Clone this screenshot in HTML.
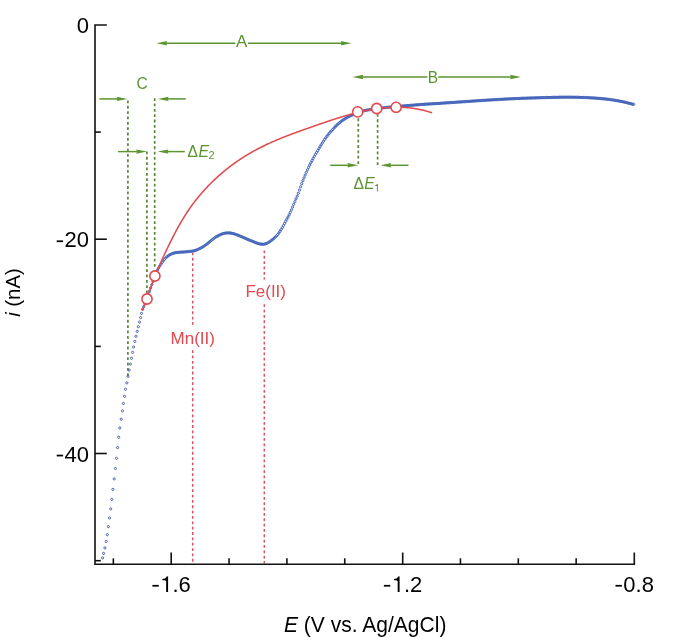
<!DOCTYPE html>
<html><head><meta charset="utf-8"><title>Voltammogram</title>
<style>html,body{margin:0;padding:0;background:#fff;width:685px;height:637px;overflow:hidden;font-family:"Liberation Sans",sans-serif;}svg{display:block;will-change:transform;}</style>
</head><body>
<svg width="685" height="637" viewBox="0 0 685 637">
<rect width="685" height="637" fill="#fff"/>
<line x1="192.7" y1="252.5" x2="192.7" y2="325.5" stroke="#d9525f" stroke-width="1.5" stroke-dasharray="2.8 2.55"/>
<line x1="192.7" y1="350.2" x2="192.7" y2="563.5" stroke="#d9525f" stroke-width="1.5" stroke-dasharray="2.8 2.55"/>
<line x1="264.3" y1="250.5" x2="264.3" y2="279.5" stroke="#d9525f" stroke-width="1.5" stroke-dasharray="2.8 2.55"/>
<line x1="264.3" y1="304.3" x2="264.3" y2="563.5" stroke="#d9525f" stroke-width="1.5" stroke-dasharray="2.8 2.55"/>
<line x1="127.9" y1="100.5" x2="127.9" y2="376.5" stroke="#5a8438" stroke-width="1.7" stroke-dasharray="2.8 2.55"/>
<line x1="154.7" y1="98.2" x2="154.7" y2="269" stroke="#5a8438" stroke-width="1.7" stroke-dasharray="2.8 2.55"/>
<line x1="146.9" y1="151.5" x2="146.9" y2="293" stroke="#5a8438" stroke-width="1.7" stroke-dasharray="2.8 2.55"/>
<line x1="358.3" y1="113" x2="358.3" y2="165" stroke="#5a8438" stroke-width="1.7" stroke-dasharray="2.8 2.55"/>
<line x1="377.6" y1="114" x2="377.6" y2="165.5" stroke="#5a8438" stroke-width="1.7" stroke-dasharray="2.8 2.55"/>
<path d="M106.8,25 H95 V564.3 H634.3 V552.5" fill="none" stroke="#111" stroke-width="1.6"/>
<line x1="95" y1="239.2" x2="106.8" y2="239.2" stroke="#111" stroke-width="1.6"/>
<line x1="95" y1="453.5" x2="106.8" y2="453.5" stroke="#111" stroke-width="1.6"/>
<line x1="95" y1="132.1" x2="100.8" y2="132.1" stroke="#111" stroke-width="1.6"/>
<line x1="95" y1="346.4" x2="100.8" y2="346.4" stroke="#111" stroke-width="1.6"/>
<line x1="95" y1="560.7" x2="100.8" y2="560.7" stroke="#111" stroke-width="1.6"/>
<line x1="171.2" y1="564.3" x2="171.2" y2="552.5" stroke="#111" stroke-width="1.6"/>
<line x1="402.7" y1="564.3" x2="402.7" y2="552.5" stroke="#111" stroke-width="1.6"/>
<line x1="113.35" y1="564.3" x2="113.35" y2="558.3" stroke="#111" stroke-width="1.6"/>
<line x1="229.05" y1="564.3" x2="229.05" y2="558.3" stroke="#111" stroke-width="1.6"/>
<line x1="286.90" y1="564.3" x2="286.90" y2="558.3" stroke="#111" stroke-width="1.6"/>
<line x1="344.75" y1="564.3" x2="344.75" y2="558.3" stroke="#111" stroke-width="1.6"/>
<line x1="460.45" y1="564.3" x2="460.45" y2="558.3" stroke="#111" stroke-width="1.6"/>
<line x1="518.30" y1="564.3" x2="518.30" y2="558.3" stroke="#111" stroke-width="1.6"/>
<line x1="576.15" y1="564.3" x2="576.15" y2="558.3" stroke="#111" stroke-width="1.6"/>
<circle cx="102.6" cy="557.9" r="1.1" fill="none" stroke="#5566b0" stroke-width="1.0"/>
<circle cx="103.6" cy="553.4" r="1.1" fill="none" stroke="#5566b0" stroke-width="1.0"/>
<circle cx="104.9" cy="547.9" r="1.1" fill="none" stroke="#5566b0" stroke-width="1.0"/>
<circle cx="106.2" cy="541.5" r="1.1" fill="none" stroke="#5566b0" stroke-width="1.0"/>
<circle cx="107.3" cy="534.7" r="1.1" fill="none" stroke="#5566b0" stroke-width="1.0"/>
<circle cx="108.4" cy="526.6" r="1.1" fill="none" stroke="#5566b0" stroke-width="1.0"/>
<circle cx="109.5" cy="517.9" r="1.1" fill="none" stroke="#5566b0" stroke-width="1.0"/>
<circle cx="110.7" cy="508.9" r="1.1" fill="none" stroke="#5566b0" stroke-width="1.0"/>
<circle cx="111.8" cy="499.4" r="1.1" fill="none" stroke="#5566b0" stroke-width="1.0"/>
<circle cx="112.9" cy="489.4" r="1.1" fill="none" stroke="#5566b0" stroke-width="1.0"/>
<circle cx="114.2" cy="478.9" r="1.1" fill="none" stroke="#5566b0" stroke-width="1.0"/>
<circle cx="115.4" cy="468.5" r="1.1" fill="none" stroke="#5566b0" stroke-width="1.0"/>
<circle cx="116.5" cy="458.3" r="1.1" fill="none" stroke="#5566b0" stroke-width="1.0"/>
<circle cx="117.6" cy="447.6" r="1.1" fill="none" stroke="#5566b0" stroke-width="1.0"/>
<circle cx="118.7" cy="437.3" r="1.1" fill="none" stroke="#5566b0" stroke-width="1.0"/>
<circle cx="119.8" cy="427.9" r="1.1" fill="none" stroke="#5566b0" stroke-width="1.0"/>
<circle cx="121.2" cy="419.2" r="1.1" fill="none" stroke="#5566b0" stroke-width="1.0"/>
<circle cx="122.5" cy="410.8" r="1.1" fill="none" stroke="#5566b0" stroke-width="1.0"/>
<circle cx="123.4" cy="403.4" r="1.1" fill="none" stroke="#5566b0" stroke-width="1.0"/>
<circle cx="124.5" cy="396.3" r="1.1" fill="none" stroke="#5566b0" stroke-width="1.0"/>
<circle cx="125.5" cy="389.3" r="1.1" fill="none" stroke="#5566b0" stroke-width="1.0"/>
<circle cx="126.8" cy="382.9" r="1.1" fill="none" stroke="#5566b0" stroke-width="1.0"/>
<circle cx="128.1" cy="376.3" r="1.1" fill="none" stroke="#5566b0" stroke-width="1.0"/>
<circle cx="129.1" cy="370.1" r="1.1" fill="none" stroke="#5566b0" stroke-width="1.0"/>
<circle cx="130.4" cy="364.1" r="1.1" fill="none" stroke="#5566b0" stroke-width="1.0"/>
<circle cx="131.5" cy="358.3" r="1.1" fill="none" stroke="#5566b0" stroke-width="1.0"/>
<circle cx="132.6" cy="352.4" r="1.1" fill="none" stroke="#5566b0" stroke-width="1.0"/>
<circle cx="133.6" cy="347.0" r="1.1" fill="none" stroke="#5566b0" stroke-width="1.0"/>
<circle cx="134.8" cy="341.4" r="1.1" fill="none" stroke="#5566b0" stroke-width="1.0"/>
<circle cx="136.0" cy="336.3" r="1.1" fill="none" stroke="#5566b0" stroke-width="1.0"/>
<circle cx="137.2" cy="331.3" r="1.1" fill="none" stroke="#5566b0" stroke-width="1.0"/>
<circle cx="138.4" cy="326.7" r="1.1" fill="none" stroke="#5566b0" stroke-width="1.0"/>
<circle cx="139.5" cy="322.1" r="1.1" fill="none" stroke="#5566b0" stroke-width="1.0"/>
<circle cx="140.6" cy="317.6" r="1.1" fill="none" stroke="#5566b0" stroke-width="1.0"/>
<circle cx="141.5" cy="313.4" r="1.1" fill="none" stroke="#5566b0" stroke-width="1.0"/>
<circle cx="142.64" cy="309.28" r="1.1" fill="none" stroke="#3d60b8" stroke-width="1.0"/>
<circle cx="143.79" cy="306.52" r="1.1" fill="none" stroke="#3d60b8" stroke-width="1.0"/>
<circle cx="144.93" cy="303.88" r="1.1" fill="none" stroke="#3d60b8" stroke-width="1.0"/>
<circle cx="146.08" cy="301.15" r="1.1" fill="none" stroke="#3d60b8" stroke-width="1.0"/>
<circle cx="147.22" cy="298.14" r="1.1" fill="none" stroke="#3d60b8" stroke-width="1.0"/>
<circle cx="148.37" cy="294.81" r="1.1" fill="none" stroke="#3d60b8" stroke-width="1.0"/>
<circle cx="149.51" cy="291.32" r="1.1" fill="none" stroke="#3d60b8" stroke-width="1.0"/>
<circle cx="150.66" cy="287.91" r="1.1" fill="none" stroke="#3d60b8" stroke-width="1.0"/>
<circle cx="151.80" cy="284.66" r="1.1" fill="none" stroke="#3d60b8" stroke-width="1.0"/>
<circle cx="152.94" cy="281.44" r="1.1" fill="none" stroke="#3d60b8" stroke-width="1.0"/>
<circle cx="154.09" cy="278.32" r="1.1" fill="none" stroke="#3d60b8" stroke-width="1.0"/>
<circle cx="155.23" cy="275.35" r="1.1" fill="none" stroke="#3d60b8" stroke-width="1.0"/>
<circle cx="156.38" cy="272.50" r="1.1" fill="none" stroke="#3d60b8" stroke-width="1.0"/>
<circle cx="157.52" cy="270.01" r="1.1" fill="none" stroke="#3d60b8" stroke-width="1.0"/>
<circle cx="158.67" cy="267.89" r="1.1" fill="none" stroke="#3d60b8" stroke-width="1.0"/>
<circle cx="159.81" cy="265.98" r="1.1" fill="none" stroke="#3d60b8" stroke-width="1.0"/>
<circle cx="160.96" cy="264.20" r="1.1" fill="none" stroke="#3d60b8" stroke-width="1.0"/>
<circle cx="162.10" cy="262.52" r="1.1" fill="none" stroke="#3d60b8" stroke-width="1.0"/>
<circle cx="163.25" cy="260.93" r="1.1" fill="none" stroke="#3d60b8" stroke-width="1.0"/>
<circle cx="164.39" cy="259.49" r="1.1" fill="none" stroke="#3d60b8" stroke-width="1.0"/>
<circle cx="165.53" cy="258.22" r="1.1" fill="none" stroke="#3d60b8" stroke-width="1.0"/>
<circle cx="166.68" cy="257.11" r="1.1" fill="none" stroke="#3d60b8" stroke-width="1.0"/>
<circle cx="167.82" cy="256.13" r="1.1" fill="none" stroke="#3d60b8" stroke-width="1.0"/>
<circle cx="168.97" cy="255.29" r="1.1" fill="none" stroke="#3d60b8" stroke-width="1.0"/>
<circle cx="170.11" cy="254.61" r="1.1" fill="none" stroke="#3d60b8" stroke-width="1.0"/>
<circle cx="171.26" cy="254.04" r="1.1" fill="none" stroke="#3d60b8" stroke-width="1.0"/>
<circle cx="172.40" cy="253.57" r="1.1" fill="none" stroke="#3d60b8" stroke-width="1.0"/>
<circle cx="173.55" cy="253.19" r="1.1" fill="none" stroke="#3d60b8" stroke-width="1.0"/>
<circle cx="174.69" cy="252.87" r="1.1" fill="none" stroke="#3d60b8" stroke-width="1.0"/>
<circle cx="175.83" cy="252.61" r="1.1" fill="none" stroke="#3d60b8" stroke-width="1.0"/>
<circle cx="176.98" cy="252.44" r="1.1" fill="none" stroke="#3d60b8" stroke-width="1.0"/>
<circle cx="178.12" cy="252.34" r="1.1" fill="none" stroke="#3d60b8" stroke-width="1.0"/>
<circle cx="179.27" cy="252.26" r="1.1" fill="none" stroke="#3d60b8" stroke-width="1.0"/>
<circle cx="180.41" cy="252.18" r="1.1" fill="none" stroke="#3d60b8" stroke-width="1.0"/>
<circle cx="181.56" cy="252.11" r="1.1" fill="none" stroke="#3d60b8" stroke-width="1.0"/>
<circle cx="182.70" cy="252.05" r="1.1" fill="none" stroke="#3d60b8" stroke-width="1.0"/>
<circle cx="183.85" cy="251.99" r="1.1" fill="none" stroke="#3d60b8" stroke-width="1.0"/>
<circle cx="184.99" cy="251.90" r="1.1" fill="none" stroke="#3d60b8" stroke-width="1.0"/>
<circle cx="186.14" cy="251.80" r="1.1" fill="none" stroke="#3d60b8" stroke-width="1.0"/>
<circle cx="187.28" cy="251.70" r="1.1" fill="none" stroke="#3d60b8" stroke-width="1.0"/>
<circle cx="188.42" cy="251.59" r="1.1" fill="none" stroke="#3d60b8" stroke-width="1.0"/>
<circle cx="189.57" cy="251.47" r="1.1" fill="none" stroke="#3d60b8" stroke-width="1.0"/>
<circle cx="190.71" cy="251.34" r="1.1" fill="none" stroke="#3d60b8" stroke-width="1.0"/>
<circle cx="191.86" cy="251.19" r="1.1" fill="none" stroke="#3d60b8" stroke-width="1.0"/>
<circle cx="193.00" cy="250.99" r="1.1" fill="none" stroke="#3d60b8" stroke-width="1.0"/>
<circle cx="194.15" cy="250.76" r="1.1" fill="none" stroke="#3d60b8" stroke-width="1.0"/>
<circle cx="195.29" cy="250.44" r="1.1" fill="none" stroke="#3d60b8" stroke-width="1.0"/>
<circle cx="196.44" cy="250.04" r="1.1" fill="none" stroke="#3d60b8" stroke-width="1.0"/>
<circle cx="197.58" cy="249.58" r="1.1" fill="none" stroke="#3d60b8" stroke-width="1.0"/>
<circle cx="198.72" cy="249.06" r="1.1" fill="none" stroke="#3d60b8" stroke-width="1.0"/>
<circle cx="199.87" cy="248.49" r="1.1" fill="none" stroke="#3d60b8" stroke-width="1.0"/>
<circle cx="201.01" cy="247.89" r="1.1" fill="none" stroke="#3d60b8" stroke-width="1.0"/>
<circle cx="202.16" cy="247.25" r="1.1" fill="none" stroke="#3d60b8" stroke-width="1.0"/>
<circle cx="203.30" cy="246.57" r="1.1" fill="none" stroke="#3d60b8" stroke-width="1.0"/>
<circle cx="204.45" cy="245.83" r="1.1" fill="none" stroke="#3d60b8" stroke-width="1.0"/>
<circle cx="205.59" cy="245.05" r="1.1" fill="none" stroke="#3d60b8" stroke-width="1.0"/>
<circle cx="206.74" cy="244.22" r="1.1" fill="none" stroke="#3d60b8" stroke-width="1.0"/>
<circle cx="207.88" cy="243.31" r="1.1" fill="none" stroke="#3d60b8" stroke-width="1.0"/>
<circle cx="209.03" cy="242.32" r="1.1" fill="none" stroke="#3d60b8" stroke-width="1.0"/>
<circle cx="210.17" cy="241.35" r="1.1" fill="none" stroke="#3d60b8" stroke-width="1.0"/>
<circle cx="211.31" cy="240.42" r="1.1" fill="none" stroke="#3d60b8" stroke-width="1.0"/>
<circle cx="212.46" cy="239.50" r="1.1" fill="none" stroke="#3d60b8" stroke-width="1.0"/>
<circle cx="213.60" cy="238.60" r="1.1" fill="none" stroke="#3d60b8" stroke-width="1.0"/>
<circle cx="214.75" cy="237.77" r="1.1" fill="none" stroke="#3d60b8" stroke-width="1.0"/>
<circle cx="215.89" cy="237.02" r="1.1" fill="none" stroke="#3d60b8" stroke-width="1.0"/>
<circle cx="217.04" cy="236.34" r="1.1" fill="none" stroke="#3d60b8" stroke-width="1.0"/>
<circle cx="218.18" cy="235.71" r="1.1" fill="none" stroke="#3d60b8" stroke-width="1.0"/>
<circle cx="219.33" cy="235.14" r="1.1" fill="none" stroke="#3d60b8" stroke-width="1.0"/>
<circle cx="220.47" cy="234.60" r="1.1" fill="none" stroke="#3d60b8" stroke-width="1.0"/>
<circle cx="221.61" cy="234.12" r="1.1" fill="none" stroke="#3d60b8" stroke-width="1.0"/>
<circle cx="222.76" cy="233.72" r="1.1" fill="none" stroke="#3d60b8" stroke-width="1.0"/>
<circle cx="223.90" cy="233.40" r="1.1" fill="none" stroke="#3d60b8" stroke-width="1.0"/>
<circle cx="225.05" cy="233.16" r="1.1" fill="none" stroke="#3d60b8" stroke-width="1.0"/>
<circle cx="226.19" cy="233.00" r="1.1" fill="none" stroke="#3d60b8" stroke-width="1.0"/>
<circle cx="227.34" cy="232.91" r="1.1" fill="none" stroke="#3d60b8" stroke-width="1.0"/>
<circle cx="228.48" cy="232.90" r="1.1" fill="none" stroke="#3d60b8" stroke-width="1.0"/>
<circle cx="229.63" cy="232.95" r="1.1" fill="none" stroke="#3d60b8" stroke-width="1.0"/>
<circle cx="230.77" cy="233.08" r="1.1" fill="none" stroke="#3d60b8" stroke-width="1.0"/>
<circle cx="231.92" cy="233.28" r="1.1" fill="none" stroke="#3d60b8" stroke-width="1.0"/>
<circle cx="233.06" cy="233.55" r="1.1" fill="none" stroke="#3d60b8" stroke-width="1.0"/>
<circle cx="234.20" cy="233.88" r="1.1" fill="none" stroke="#3d60b8" stroke-width="1.0"/>
<circle cx="235.35" cy="234.26" r="1.1" fill="none" stroke="#3d60b8" stroke-width="1.0"/>
<circle cx="236.49" cy="234.65" r="1.1" fill="none" stroke="#3d60b8" stroke-width="1.0"/>
<circle cx="237.64" cy="235.07" r="1.1" fill="none" stroke="#3d60b8" stroke-width="1.0"/>
<circle cx="238.78" cy="235.53" r="1.1" fill="none" stroke="#3d60b8" stroke-width="1.0"/>
<circle cx="239.93" cy="236.01" r="1.1" fill="none" stroke="#3d60b8" stroke-width="1.0"/>
<circle cx="241.07" cy="236.50" r="1.1" fill="none" stroke="#3d60b8" stroke-width="1.0"/>
<circle cx="242.22" cy="236.99" r="1.1" fill="none" stroke="#3d60b8" stroke-width="1.0"/>
<circle cx="243.36" cy="237.48" r="1.1" fill="none" stroke="#3d60b8" stroke-width="1.0"/>
<circle cx="244.50" cy="237.98" r="1.1" fill="none" stroke="#3d60b8" stroke-width="1.0"/>
<circle cx="245.65" cy="238.48" r="1.1" fill="none" stroke="#3d60b8" stroke-width="1.0"/>
<circle cx="246.79" cy="238.98" r="1.1" fill="none" stroke="#3d60b8" stroke-width="1.0"/>
<circle cx="247.94" cy="239.48" r="1.1" fill="none" stroke="#3d60b8" stroke-width="1.0"/>
<circle cx="249.08" cy="239.97" r="1.1" fill="none" stroke="#3d60b8" stroke-width="1.0"/>
<circle cx="250.23" cy="240.44" r="1.1" fill="none" stroke="#3d60b8" stroke-width="1.0"/>
<circle cx="251.37" cy="240.90" r="1.1" fill="none" stroke="#3d60b8" stroke-width="1.0"/>
<circle cx="252.52" cy="241.34" r="1.1" fill="none" stroke="#3d60b8" stroke-width="1.0"/>
<circle cx="253.66" cy="241.77" r="1.1" fill="none" stroke="#3d60b8" stroke-width="1.0"/>
<circle cx="254.81" cy="242.23" r="1.1" fill="none" stroke="#3d60b8" stroke-width="1.0"/>
<circle cx="255.95" cy="242.73" r="1.1" fill="none" stroke="#3d60b8" stroke-width="1.0"/>
<circle cx="257.09" cy="243.19" r="1.1" fill="none" stroke="#3d60b8" stroke-width="1.0"/>
<circle cx="258.24" cy="243.56" r="1.1" fill="none" stroke="#3d60b8" stroke-width="1.0"/>
<circle cx="259.38" cy="243.82" r="1.1" fill="none" stroke="#3d60b8" stroke-width="1.0"/>
<circle cx="260.53" cy="244.04" r="1.1" fill="none" stroke="#3d60b8" stroke-width="1.0"/>
<circle cx="261.67" cy="244.19" r="1.1" fill="none" stroke="#3d60b8" stroke-width="1.0"/>
<circle cx="262.82" cy="244.26" r="1.1" fill="none" stroke="#3d60b8" stroke-width="1.0"/>
<circle cx="263.96" cy="244.19" r="1.1" fill="none" stroke="#3d60b8" stroke-width="1.0"/>
<circle cx="265.11" cy="243.95" r="1.1" fill="none" stroke="#3d60b8" stroke-width="1.0"/>
<circle cx="266.25" cy="243.54" r="1.1" fill="none" stroke="#3d60b8" stroke-width="1.0"/>
<circle cx="267.39" cy="242.98" r="1.1" fill="none" stroke="#3d60b8" stroke-width="1.0"/>
<circle cx="268.54" cy="242.32" r="1.1" fill="none" stroke="#3d60b8" stroke-width="1.0"/>
<circle cx="269.68" cy="241.58" r="1.1" fill="none" stroke="#3d60b8" stroke-width="1.0"/>
<circle cx="270.83" cy="240.79" r="1.1" fill="none" stroke="#3d60b8" stroke-width="1.0"/>
<circle cx="271.97" cy="239.95" r="1.1" fill="none" stroke="#3d60b8" stroke-width="1.0"/>
<circle cx="273.12" cy="239.04" r="1.1" fill="none" stroke="#3d60b8" stroke-width="1.0"/>
<circle cx="274.26" cy="238.07" r="1.1" fill="none" stroke="#3d60b8" stroke-width="1.0"/>
<circle cx="275.41" cy="237.01" r="1.1" fill="none" stroke="#3d60b8" stroke-width="1.0"/>
<circle cx="276.55" cy="235.83" r="1.1" fill="none" stroke="#3d60b8" stroke-width="1.0"/>
<circle cx="277.70" cy="234.50" r="1.1" fill="none" stroke="#3d60b8" stroke-width="1.0"/>
<circle cx="278.84" cy="233.01" r="1.1" fill="none" stroke="#3d60b8" stroke-width="1.0"/>
<circle cx="279.98" cy="231.37" r="1.1" fill="none" stroke="#3d60b8" stroke-width="1.0"/>
<circle cx="281.13" cy="229.61" r="1.1" fill="none" stroke="#3d60b8" stroke-width="1.0"/>
<circle cx="282.27" cy="227.71" r="1.1" fill="none" stroke="#3d60b8" stroke-width="1.0"/>
<circle cx="283.42" cy="225.63" r="1.1" fill="none" stroke="#3d60b8" stroke-width="1.0"/>
<circle cx="284.56" cy="223.46" r="1.1" fill="none" stroke="#3d60b8" stroke-width="1.0"/>
<circle cx="285.71" cy="221.27" r="1.1" fill="none" stroke="#3d60b8" stroke-width="1.0"/>
<circle cx="286.85" cy="219.14" r="1.1" fill="none" stroke="#3d60b8" stroke-width="1.0"/>
<circle cx="288.00" cy="217.01" r="1.1" fill="none" stroke="#3d60b8" stroke-width="1.0"/>
<circle cx="289.14" cy="214.79" r="1.1" fill="none" stroke="#3d60b8" stroke-width="1.0"/>
<circle cx="290.28" cy="212.42" r="1.1" fill="none" stroke="#3d60b8" stroke-width="1.0"/>
<circle cx="291.43" cy="209.84" r="1.1" fill="none" stroke="#3d60b8" stroke-width="1.0"/>
<circle cx="292.57" cy="207.11" r="1.1" fill="none" stroke="#3d60b8" stroke-width="1.0"/>
<circle cx="293.72" cy="204.33" r="1.1" fill="none" stroke="#3d60b8" stroke-width="1.0"/>
<circle cx="294.86" cy="201.57" r="1.1" fill="none" stroke="#3d60b8" stroke-width="1.0"/>
<circle cx="296.01" cy="198.86" r="1.1" fill="none" stroke="#3d60b8" stroke-width="1.0"/>
<circle cx="297.15" cy="196.13" r="1.1" fill="none" stroke="#3d60b8" stroke-width="1.0"/>
<circle cx="298.30" cy="193.27" r="1.1" fill="none" stroke="#3d60b8" stroke-width="1.0"/>
<circle cx="299.44" cy="190.13" r="1.1" fill="none" stroke="#3d60b8" stroke-width="1.0"/>
<circle cx="300.59" cy="186.81" r="1.1" fill="none" stroke="#3d60b8" stroke-width="1.0"/>
<circle cx="301.73" cy="183.68" r="1.1" fill="none" stroke="#3d60b8" stroke-width="1.0"/>
<circle cx="302.87" cy="180.74" r="1.1" fill="none" stroke="#3d60b8" stroke-width="1.0"/>
<circle cx="304.02" cy="177.87" r="1.1" fill="none" stroke="#3d60b8" stroke-width="1.0"/>
<circle cx="305.16" cy="175.06" r="1.1" fill="none" stroke="#3d60b8" stroke-width="1.0"/>
<circle cx="306.31" cy="172.37" r="1.1" fill="none" stroke="#3d60b8" stroke-width="1.0"/>
<circle cx="307.45" cy="169.80" r="1.1" fill="none" stroke="#3d60b8" stroke-width="1.0"/>
<circle cx="308.60" cy="167.37" r="1.1" fill="none" stroke="#3d60b8" stroke-width="1.0"/>
<circle cx="309.74" cy="165.03" r="1.1" fill="none" stroke="#3d60b8" stroke-width="1.0"/>
<circle cx="310.89" cy="162.77" r="1.1" fill="none" stroke="#3d60b8" stroke-width="1.0"/>
<circle cx="312.03" cy="160.57" r="1.1" fill="none" stroke="#3d60b8" stroke-width="1.0"/>
<circle cx="313.17" cy="158.43" r="1.1" fill="none" stroke="#3d60b8" stroke-width="1.0"/>
<circle cx="314.32" cy="156.36" r="1.1" fill="none" stroke="#3d60b8" stroke-width="1.0"/>
<circle cx="315.46" cy="154.36" r="1.1" fill="none" stroke="#3d60b8" stroke-width="1.0"/>
<circle cx="316.61" cy="152.42" r="1.1" fill="none" stroke="#3d60b8" stroke-width="1.0"/>
<circle cx="317.75" cy="150.51" r="1.1" fill="none" stroke="#3d60b8" stroke-width="1.0"/>
<circle cx="318.90" cy="148.61" r="1.1" fill="none" stroke="#3d60b8" stroke-width="1.0"/>
<circle cx="320.04" cy="146.70" r="1.1" fill="none" stroke="#3d60b8" stroke-width="1.0"/>
<circle cx="321.19" cy="144.81" r="1.1" fill="none" stroke="#3d60b8" stroke-width="1.0"/>
<circle cx="322.33" cy="142.96" r="1.1" fill="none" stroke="#3d60b8" stroke-width="1.0"/>
<circle cx="323.48" cy="141.15" r="1.1" fill="none" stroke="#3d60b8" stroke-width="1.0"/>
<circle cx="324.62" cy="139.42" r="1.1" fill="none" stroke="#3d60b8" stroke-width="1.0"/>
<circle cx="325.76" cy="137.79" r="1.1" fill="none" stroke="#3d60b8" stroke-width="1.0"/>
<circle cx="326.91" cy="136.26" r="1.1" fill="none" stroke="#3d60b8" stroke-width="1.0"/>
<circle cx="328.05" cy="134.81" r="1.1" fill="none" stroke="#3d60b8" stroke-width="1.0"/>
<circle cx="329.20" cy="133.43" r="1.1" fill="none" stroke="#3d60b8" stroke-width="1.0"/>
<circle cx="330.34" cy="132.11" r="1.1" fill="none" stroke="#3d60b8" stroke-width="1.0"/>
<circle cx="331.49" cy="130.81" r="1.1" fill="none" stroke="#3d60b8" stroke-width="1.0"/>
<circle cx="332.63" cy="129.54" r="1.1" fill="none" stroke="#3d60b8" stroke-width="1.0"/>
<circle cx="333.78" cy="128.30" r="1.1" fill="none" stroke="#3d60b8" stroke-width="1.0"/>
<circle cx="334.92" cy="127.08" r="1.1" fill="none" stroke="#3d60b8" stroke-width="1.0"/>
<circle cx="336.06" cy="125.90" r="1.1" fill="none" stroke="#3d60b8" stroke-width="1.0"/>
<circle cx="337.21" cy="124.77" r="1.1" fill="none" stroke="#3d60b8" stroke-width="1.0"/>
<circle cx="338.35" cy="123.71" r="1.1" fill="none" stroke="#3d60b8" stroke-width="1.0"/>
<circle cx="339.50" cy="122.70" r="1.1" fill="none" stroke="#3d60b8" stroke-width="1.0"/>
<circle cx="340.64" cy="121.78" r="1.1" fill="none" stroke="#3d60b8" stroke-width="1.0"/>
<circle cx="341.79" cy="120.92" r="1.1" fill="none" stroke="#3d60b8" stroke-width="1.0"/>
<circle cx="342.93" cy="120.12" r="1.1" fill="none" stroke="#3d60b8" stroke-width="1.0"/>
<circle cx="344.08" cy="119.37" r="1.1" fill="none" stroke="#3d60b8" stroke-width="1.0"/>
<circle cx="345.22" cy="118.64" r="1.1" fill="none" stroke="#3d60b8" stroke-width="1.0"/>
<circle cx="346.37" cy="117.94" r="1.1" fill="none" stroke="#3d60b8" stroke-width="1.0"/>
<circle cx="347.51" cy="117.27" r="1.1" fill="none" stroke="#3d60b8" stroke-width="1.0"/>
<circle cx="348.65" cy="116.66" r="1.1" fill="none" stroke="#3d60b8" stroke-width="1.0"/>
<circle cx="349.80" cy="116.11" r="1.1" fill="none" stroke="#3d60b8" stroke-width="1.0"/>
<circle cx="350.94" cy="115.58" r="1.1" fill="none" stroke="#3d60b8" stroke-width="1.0"/>
<circle cx="352.09" cy="115.05" r="1.1" fill="none" stroke="#3d60b8" stroke-width="1.0"/>
<circle cx="353.23" cy="114.49" r="1.1" fill="none" stroke="#3d60b8" stroke-width="1.0"/>
<circle cx="354.38" cy="113.91" r="1.1" fill="none" stroke="#3d60b8" stroke-width="1.0"/>
<circle cx="355.52" cy="113.36" r="1.1" fill="none" stroke="#3d60b8" stroke-width="1.0"/>
<circle cx="356.67" cy="112.88" r="1.1" fill="none" stroke="#3d60b8" stroke-width="1.0"/>
<circle cx="357.81" cy="112.46" r="1.1" fill="none" stroke="#3d60b8" stroke-width="1.0"/>
<circle cx="358.95" cy="112.09" r="1.1" fill="none" stroke="#3d60b8" stroke-width="1.0"/>
<circle cx="360.10" cy="111.74" r="1.1" fill="none" stroke="#3d60b8" stroke-width="1.0"/>
<circle cx="361.24" cy="111.42" r="1.1" fill="none" stroke="#3d60b8" stroke-width="1.0"/>
<circle cx="362.39" cy="111.12" r="1.1" fill="none" stroke="#3d60b8" stroke-width="1.0"/>
<circle cx="363.53" cy="110.84" r="1.1" fill="none" stroke="#3d60b8" stroke-width="1.0"/>
<circle cx="364.68" cy="110.58" r="1.1" fill="none" stroke="#3d60b8" stroke-width="1.0"/>
<circle cx="365.82" cy="110.34" r="1.1" fill="none" stroke="#3d60b8" stroke-width="1.0"/>
<circle cx="366.97" cy="110.12" r="1.1" fill="none" stroke="#3d60b8" stroke-width="1.0"/>
<circle cx="368.11" cy="109.92" r="1.1" fill="none" stroke="#3d60b8" stroke-width="1.0"/>
<circle cx="369.26" cy="109.74" r="1.1" fill="none" stroke="#3d60b8" stroke-width="1.0"/>
<circle cx="370.40" cy="109.56" r="1.1" fill="none" stroke="#3d60b8" stroke-width="1.0"/>
<circle cx="371.54" cy="109.40" r="1.1" fill="none" stroke="#3d60b8" stroke-width="1.0"/>
<circle cx="372.69" cy="109.24" r="1.1" fill="none" stroke="#3d60b8" stroke-width="1.0"/>
<circle cx="373.83" cy="109.09" r="1.1" fill="none" stroke="#3d60b8" stroke-width="1.0"/>
<circle cx="374.98" cy="108.94" r="1.1" fill="none" stroke="#3d60b8" stroke-width="1.0"/>
<circle cx="376.12" cy="108.78" r="1.1" fill="none" stroke="#3d60b8" stroke-width="1.0"/>
<circle cx="377.27" cy="108.62" r="1.1" fill="none" stroke="#3d60b8" stroke-width="1.0"/>
<circle cx="378.41" cy="108.46" r="1.1" fill="none" stroke="#3d60b8" stroke-width="1.0"/>
<circle cx="379.56" cy="108.30" r="1.1" fill="none" stroke="#3d60b8" stroke-width="1.0"/>
<circle cx="380.70" cy="108.15" r="1.1" fill="none" stroke="#3d60b8" stroke-width="1.0"/>
<circle cx="381.84" cy="108.00" r="1.1" fill="none" stroke="#3d60b8" stroke-width="1.0"/>
<circle cx="382.99" cy="107.85" r="1.1" fill="none" stroke="#3d60b8" stroke-width="1.0"/>
<circle cx="384.13" cy="107.71" r="1.1" fill="none" stroke="#3d60b8" stroke-width="1.0"/>
<circle cx="385.28" cy="107.58" r="1.1" fill="none" stroke="#3d60b8" stroke-width="1.0"/>
<circle cx="386.42" cy="107.45" r="1.1" fill="none" stroke="#3d60b8" stroke-width="1.0"/>
<circle cx="387.57" cy="107.33" r="1.1" fill="none" stroke="#3d60b8" stroke-width="1.0"/>
<circle cx="388.71" cy="107.22" r="1.1" fill="none" stroke="#3d60b8" stroke-width="1.0"/>
<circle cx="389.86" cy="107.12" r="1.1" fill="none" stroke="#3d60b8" stroke-width="1.0"/>
<circle cx="391.00" cy="107.02" r="1.1" fill="none" stroke="#3d60b8" stroke-width="1.0"/>
<circle cx="392.15" cy="106.92" r="1.1" fill="none" stroke="#3d60b8" stroke-width="1.0"/>
<circle cx="393.29" cy="106.83" r="1.1" fill="none" stroke="#3d60b8" stroke-width="1.0"/>
<circle cx="394.43" cy="106.73" r="1.1" fill="none" stroke="#3d60b8" stroke-width="1.0"/>
<circle cx="395.58" cy="106.64" r="1.1" fill="none" stroke="#3d60b8" stroke-width="1.0"/>
<circle cx="396.72" cy="106.54" r="1.1" fill="none" stroke="#3d60b8" stroke-width="1.0"/>
<circle cx="397.87" cy="106.44" r="1.1" fill="none" stroke="#3d60b8" stroke-width="1.0"/>
<circle cx="399.01" cy="106.34" r="1.1" fill="none" stroke="#3d60b8" stroke-width="1.0"/>
<circle cx="400.16" cy="106.24" r="1.1" fill="none" stroke="#3d60b8" stroke-width="1.0"/>
<circle cx="401.30" cy="106.14" r="1.1" fill="none" stroke="#3d60b8" stroke-width="1.0"/>
<circle cx="402.45" cy="106.05" r="1.1" fill="none" stroke="#3d60b8" stroke-width="1.0"/>
<circle cx="403.59" cy="105.95" r="1.1" fill="none" stroke="#3d60b8" stroke-width="1.0"/>
<circle cx="404.73" cy="105.85" r="1.1" fill="none" stroke="#3d60b8" stroke-width="1.0"/>
<circle cx="405.88" cy="105.75" r="1.1" fill="none" stroke="#3d60b8" stroke-width="1.0"/>
<circle cx="407.02" cy="105.65" r="1.1" fill="none" stroke="#3d60b8" stroke-width="1.0"/>
<circle cx="408.17" cy="105.56" r="1.1" fill="none" stroke="#3d60b8" stroke-width="1.0"/>
<circle cx="409.31" cy="105.46" r="1.1" fill="none" stroke="#3d60b8" stroke-width="1.0"/>
<circle cx="410.46" cy="105.37" r="1.1" fill="none" stroke="#3d60b8" stroke-width="1.0"/>
<circle cx="411.60" cy="105.27" r="1.1" fill="none" stroke="#3d60b8" stroke-width="1.0"/>
<circle cx="412.75" cy="105.18" r="1.1" fill="none" stroke="#3d60b8" stroke-width="1.0"/>
<circle cx="413.89" cy="105.08" r="1.1" fill="none" stroke="#3d60b8" stroke-width="1.0"/>
<circle cx="415.04" cy="104.99" r="1.1" fill="none" stroke="#3d60b8" stroke-width="1.0"/>
<circle cx="416.18" cy="104.90" r="1.1" fill="none" stroke="#3d60b8" stroke-width="1.0"/>
<circle cx="417.32" cy="104.81" r="1.1" fill="none" stroke="#3d60b8" stroke-width="1.0"/>
<circle cx="418.47" cy="104.72" r="1.1" fill="none" stroke="#3d60b8" stroke-width="1.0"/>
<circle cx="419.61" cy="104.63" r="1.1" fill="none" stroke="#3d60b8" stroke-width="1.0"/>
<circle cx="420.76" cy="104.54" r="1.1" fill="none" stroke="#3d60b8" stroke-width="1.0"/>
<circle cx="421.90" cy="104.46" r="1.1" fill="none" stroke="#3d60b8" stroke-width="1.0"/>
<circle cx="423.05" cy="104.38" r="1.1" fill="none" stroke="#3d60b8" stroke-width="1.0"/>
<circle cx="424.19" cy="104.30" r="1.1" fill="none" stroke="#3d60b8" stroke-width="1.0"/>
<circle cx="425.34" cy="104.22" r="1.1" fill="none" stroke="#3d60b8" stroke-width="1.0"/>
<circle cx="426.48" cy="104.15" r="1.1" fill="none" stroke="#3d60b8" stroke-width="1.0"/>
<circle cx="427.62" cy="104.07" r="1.1" fill="none" stroke="#3d60b8" stroke-width="1.0"/>
<circle cx="428.77" cy="104.00" r="1.1" fill="none" stroke="#3d60b8" stroke-width="1.0"/>
<circle cx="429.91" cy="103.93" r="1.1" fill="none" stroke="#3d60b8" stroke-width="1.0"/>
<circle cx="431.06" cy="103.86" r="1.1" fill="none" stroke="#3d60b8" stroke-width="1.0"/>
<circle cx="432.20" cy="103.79" r="1.1" fill="none" stroke="#3d60b8" stroke-width="1.0"/>
<circle cx="433.35" cy="103.72" r="1.1" fill="none" stroke="#3d60b8" stroke-width="1.0"/>
<circle cx="434.49" cy="103.65" r="1.1" fill="none" stroke="#3d60b8" stroke-width="1.0"/>
<circle cx="435.64" cy="103.58" r="1.1" fill="none" stroke="#3d60b8" stroke-width="1.0"/>
<circle cx="436.78" cy="103.51" r="1.1" fill="none" stroke="#3d60b8" stroke-width="1.0"/>
<circle cx="437.93" cy="103.43" r="1.1" fill="none" stroke="#3d60b8" stroke-width="1.0"/>
<circle cx="439.07" cy="103.36" r="1.1" fill="none" stroke="#3d60b8" stroke-width="1.0"/>
<circle cx="440.21" cy="103.29" r="1.1" fill="none" stroke="#3d60b8" stroke-width="1.0"/>
<circle cx="441.36" cy="103.21" r="1.1" fill="none" stroke="#3d60b8" stroke-width="1.0"/>
<circle cx="442.50" cy="103.14" r="1.1" fill="none" stroke="#3d60b8" stroke-width="1.0"/>
<circle cx="443.65" cy="103.06" r="1.1" fill="none" stroke="#3d60b8" stroke-width="1.0"/>
<circle cx="444.79" cy="102.99" r="1.1" fill="none" stroke="#3d60b8" stroke-width="1.0"/>
<circle cx="445.94" cy="102.91" r="1.1" fill="none" stroke="#3d60b8" stroke-width="1.0"/>
<circle cx="447.08" cy="102.83" r="1.1" fill="none" stroke="#3d60b8" stroke-width="1.0"/>
<circle cx="448.23" cy="102.76" r="1.1" fill="none" stroke="#3d60b8" stroke-width="1.0"/>
<circle cx="449.37" cy="102.68" r="1.1" fill="none" stroke="#3d60b8" stroke-width="1.0"/>
<circle cx="450.51" cy="102.61" r="1.1" fill="none" stroke="#3d60b8" stroke-width="1.0"/>
<circle cx="451.66" cy="102.53" r="1.1" fill="none" stroke="#3d60b8" stroke-width="1.0"/>
<circle cx="452.80" cy="102.46" r="1.1" fill="none" stroke="#3d60b8" stroke-width="1.0"/>
<circle cx="453.95" cy="102.38" r="1.1" fill="none" stroke="#3d60b8" stroke-width="1.0"/>
<circle cx="455.09" cy="102.30" r="1.1" fill="none" stroke="#3d60b8" stroke-width="1.0"/>
<circle cx="456.24" cy="102.23" r="1.1" fill="none" stroke="#3d60b8" stroke-width="1.0"/>
<circle cx="457.38" cy="102.15" r="1.1" fill="none" stroke="#3d60b8" stroke-width="1.0"/>
<circle cx="458.53" cy="102.07" r="1.1" fill="none" stroke="#3d60b8" stroke-width="1.0"/>
<circle cx="459.67" cy="102.00" r="1.1" fill="none" stroke="#3d60b8" stroke-width="1.0"/>
<circle cx="460.82" cy="101.92" r="1.1" fill="none" stroke="#3d60b8" stroke-width="1.0"/>
<circle cx="461.96" cy="101.84" r="1.1" fill="none" stroke="#3d60b8" stroke-width="1.0"/>
<circle cx="463.10" cy="101.76" r="1.1" fill="none" stroke="#3d60b8" stroke-width="1.0"/>
<circle cx="464.25" cy="101.68" r="1.1" fill="none" stroke="#3d60b8" stroke-width="1.0"/>
<circle cx="465.39" cy="101.60" r="1.1" fill="none" stroke="#3d60b8" stroke-width="1.0"/>
<circle cx="466.54" cy="101.52" r="1.1" fill="none" stroke="#3d60b8" stroke-width="1.0"/>
<circle cx="467.68" cy="101.44" r="1.1" fill="none" stroke="#3d60b8" stroke-width="1.0"/>
<circle cx="468.83" cy="101.36" r="1.1" fill="none" stroke="#3d60b8" stroke-width="1.0"/>
<circle cx="469.97" cy="101.28" r="1.1" fill="none" stroke="#3d60b8" stroke-width="1.0"/>
<circle cx="471.12" cy="101.20" r="1.1" fill="none" stroke="#3d60b8" stroke-width="1.0"/>
<circle cx="472.26" cy="101.12" r="1.1" fill="none" stroke="#3d60b8" stroke-width="1.0"/>
<circle cx="473.40" cy="101.04" r="1.1" fill="none" stroke="#3d60b8" stroke-width="1.0"/>
<circle cx="474.55" cy="100.96" r="1.1" fill="none" stroke="#3d60b8" stroke-width="1.0"/>
<circle cx="475.69" cy="100.88" r="1.1" fill="none" stroke="#3d60b8" stroke-width="1.0"/>
<circle cx="476.84" cy="100.81" r="1.1" fill="none" stroke="#3d60b8" stroke-width="1.0"/>
<circle cx="477.98" cy="100.73" r="1.1" fill="none" stroke="#3d60b8" stroke-width="1.0"/>
<circle cx="479.13" cy="100.66" r="1.1" fill="none" stroke="#3d60b8" stroke-width="1.0"/>
<circle cx="480.27" cy="100.58" r="1.1" fill="none" stroke="#3d60b8" stroke-width="1.0"/>
<circle cx="481.42" cy="100.51" r="1.1" fill="none" stroke="#3d60b8" stroke-width="1.0"/>
<circle cx="482.56" cy="100.44" r="1.1" fill="none" stroke="#3d60b8" stroke-width="1.0"/>
<circle cx="483.71" cy="100.36" r="1.1" fill="none" stroke="#3d60b8" stroke-width="1.0"/>
<circle cx="484.85" cy="100.29" r="1.1" fill="none" stroke="#3d60b8" stroke-width="1.0"/>
<circle cx="485.99" cy="100.22" r="1.1" fill="none" stroke="#3d60b8" stroke-width="1.0"/>
<circle cx="487.14" cy="100.15" r="1.1" fill="none" stroke="#3d60b8" stroke-width="1.0"/>
<circle cx="488.28" cy="100.08" r="1.1" fill="none" stroke="#3d60b8" stroke-width="1.0"/>
<circle cx="489.43" cy="100.01" r="1.1" fill="none" stroke="#3d60b8" stroke-width="1.0"/>
<circle cx="490.57" cy="99.94" r="1.1" fill="none" stroke="#3d60b8" stroke-width="1.0"/>
<circle cx="491.72" cy="99.87" r="1.1" fill="none" stroke="#3d60b8" stroke-width="1.0"/>
<circle cx="492.86" cy="99.81" r="1.1" fill="none" stroke="#3d60b8" stroke-width="1.0"/>
<circle cx="494.01" cy="99.74" r="1.1" fill="none" stroke="#3d60b8" stroke-width="1.0"/>
<circle cx="495.15" cy="99.67" r="1.1" fill="none" stroke="#3d60b8" stroke-width="1.0"/>
<circle cx="496.29" cy="99.61" r="1.1" fill="none" stroke="#3d60b8" stroke-width="1.0"/>
<circle cx="497.44" cy="99.54" r="1.1" fill="none" stroke="#3d60b8" stroke-width="1.0"/>
<circle cx="498.58" cy="99.48" r="1.1" fill="none" stroke="#3d60b8" stroke-width="1.0"/>
<circle cx="499.73" cy="99.41" r="1.1" fill="none" stroke="#3d60b8" stroke-width="1.0"/>
<circle cx="500.87" cy="99.35" r="1.1" fill="none" stroke="#3d60b8" stroke-width="1.0"/>
<circle cx="502.02" cy="99.29" r="1.1" fill="none" stroke="#3d60b8" stroke-width="1.0"/>
<circle cx="503.16" cy="99.22" r="1.1" fill="none" stroke="#3d60b8" stroke-width="1.0"/>
<circle cx="504.31" cy="99.16" r="1.1" fill="none" stroke="#3d60b8" stroke-width="1.0"/>
<circle cx="505.45" cy="99.10" r="1.1" fill="none" stroke="#3d60b8" stroke-width="1.0"/>
<circle cx="506.60" cy="99.03" r="1.1" fill="none" stroke="#3d60b8" stroke-width="1.0"/>
<circle cx="507.74" cy="98.97" r="1.1" fill="none" stroke="#3d60b8" stroke-width="1.0"/>
<circle cx="508.88" cy="98.91" r="1.1" fill="none" stroke="#3d60b8" stroke-width="1.0"/>
<circle cx="510.03" cy="98.85" r="1.1" fill="none" stroke="#3d60b8" stroke-width="1.0"/>
<circle cx="511.17" cy="98.79" r="1.1" fill="none" stroke="#3d60b8" stroke-width="1.0"/>
<circle cx="512.32" cy="98.74" r="1.1" fill="none" stroke="#3d60b8" stroke-width="1.0"/>
<circle cx="513.46" cy="98.68" r="1.1" fill="none" stroke="#3d60b8" stroke-width="1.0"/>
<circle cx="514.61" cy="98.63" r="1.1" fill="none" stroke="#3d60b8" stroke-width="1.0"/>
<circle cx="515.75" cy="98.58" r="1.1" fill="none" stroke="#3d60b8" stroke-width="1.0"/>
<circle cx="516.90" cy="98.53" r="1.1" fill="none" stroke="#3d60b8" stroke-width="1.0"/>
<circle cx="518.04" cy="98.48" r="1.1" fill="none" stroke="#3d60b8" stroke-width="1.0"/>
<circle cx="519.18" cy="98.43" r="1.1" fill="none" stroke="#3d60b8" stroke-width="1.0"/>
<circle cx="520.33" cy="98.39" r="1.1" fill="none" stroke="#3d60b8" stroke-width="1.0"/>
<circle cx="521.47" cy="98.34" r="1.1" fill="none" stroke="#3d60b8" stroke-width="1.0"/>
<circle cx="522.62" cy="98.30" r="1.1" fill="none" stroke="#3d60b8" stroke-width="1.0"/>
<circle cx="523.76" cy="98.26" r="1.1" fill="none" stroke="#3d60b8" stroke-width="1.0"/>
<circle cx="524.91" cy="98.22" r="1.1" fill="none" stroke="#3d60b8" stroke-width="1.0"/>
<circle cx="526.05" cy="98.18" r="1.1" fill="none" stroke="#3d60b8" stroke-width="1.0"/>
<circle cx="527.20" cy="98.14" r="1.1" fill="none" stroke="#3d60b8" stroke-width="1.0"/>
<circle cx="528.34" cy="98.10" r="1.1" fill="none" stroke="#3d60b8" stroke-width="1.0"/>
<circle cx="529.49" cy="98.06" r="1.1" fill="none" stroke="#3d60b8" stroke-width="1.0"/>
<circle cx="530.63" cy="98.02" r="1.1" fill="none" stroke="#3d60b8" stroke-width="1.0"/>
<circle cx="531.77" cy="97.99" r="1.1" fill="none" stroke="#3d60b8" stroke-width="1.0"/>
<circle cx="532.92" cy="97.95" r="1.1" fill="none" stroke="#3d60b8" stroke-width="1.0"/>
<circle cx="534.06" cy="97.91" r="1.1" fill="none" stroke="#3d60b8" stroke-width="1.0"/>
<circle cx="535.21" cy="97.88" r="1.1" fill="none" stroke="#3d60b8" stroke-width="1.0"/>
<circle cx="536.35" cy="97.84" r="1.1" fill="none" stroke="#3d60b8" stroke-width="1.0"/>
<circle cx="537.50" cy="97.81" r="1.1" fill="none" stroke="#3d60b8" stroke-width="1.0"/>
<circle cx="538.64" cy="97.77" r="1.1" fill="none" stroke="#3d60b8" stroke-width="1.0"/>
<circle cx="539.79" cy="97.74" r="1.1" fill="none" stroke="#3d60b8" stroke-width="1.0"/>
<circle cx="540.93" cy="97.71" r="1.1" fill="none" stroke="#3d60b8" stroke-width="1.0"/>
<circle cx="542.07" cy="97.67" r="1.1" fill="none" stroke="#3d60b8" stroke-width="1.0"/>
<circle cx="543.22" cy="97.64" r="1.1" fill="none" stroke="#3d60b8" stroke-width="1.0"/>
<circle cx="544.36" cy="97.61" r="1.1" fill="none" stroke="#3d60b8" stroke-width="1.0"/>
<circle cx="545.51" cy="97.58" r="1.1" fill="none" stroke="#3d60b8" stroke-width="1.0"/>
<circle cx="546.65" cy="97.55" r="1.1" fill="none" stroke="#3d60b8" stroke-width="1.0"/>
<circle cx="547.80" cy="97.52" r="1.1" fill="none" stroke="#3d60b8" stroke-width="1.0"/>
<circle cx="548.94" cy="97.49" r="1.1" fill="none" stroke="#3d60b8" stroke-width="1.0"/>
<circle cx="550.09" cy="97.46" r="1.1" fill="none" stroke="#3d60b8" stroke-width="1.0"/>
<circle cx="551.23" cy="97.43" r="1.1" fill="none" stroke="#3d60b8" stroke-width="1.0"/>
<circle cx="552.38" cy="97.40" r="1.1" fill="none" stroke="#3d60b8" stroke-width="1.0"/>
<circle cx="553.52" cy="97.38" r="1.1" fill="none" stroke="#3d60b8" stroke-width="1.0"/>
<circle cx="554.66" cy="97.35" r="1.1" fill="none" stroke="#3d60b8" stroke-width="1.0"/>
<circle cx="555.81" cy="97.32" r="1.1" fill="none" stroke="#3d60b8" stroke-width="1.0"/>
<circle cx="556.95" cy="97.30" r="1.1" fill="none" stroke="#3d60b8" stroke-width="1.0"/>
<circle cx="558.10" cy="97.28" r="1.1" fill="none" stroke="#3d60b8" stroke-width="1.0"/>
<circle cx="559.24" cy="97.26" r="1.1" fill="none" stroke="#3d60b8" stroke-width="1.0"/>
<circle cx="560.39" cy="97.24" r="1.1" fill="none" stroke="#3d60b8" stroke-width="1.0"/>
<circle cx="561.53" cy="97.22" r="1.1" fill="none" stroke="#3d60b8" stroke-width="1.0"/>
<circle cx="562.68" cy="97.21" r="1.1" fill="none" stroke="#3d60b8" stroke-width="1.0"/>
<circle cx="563.82" cy="97.21" r="1.1" fill="none" stroke="#3d60b8" stroke-width="1.0"/>
<circle cx="564.96" cy="97.20" r="1.1" fill="none" stroke="#3d60b8" stroke-width="1.0"/>
<circle cx="566.11" cy="97.20" r="1.1" fill="none" stroke="#3d60b8" stroke-width="1.0"/>
<circle cx="567.25" cy="97.20" r="1.1" fill="none" stroke="#3d60b8" stroke-width="1.0"/>
<circle cx="568.40" cy="97.20" r="1.1" fill="none" stroke="#3d60b8" stroke-width="1.0"/>
<circle cx="569.54" cy="97.21" r="1.1" fill="none" stroke="#3d60b8" stroke-width="1.0"/>
<circle cx="570.69" cy="97.22" r="1.1" fill="none" stroke="#3d60b8" stroke-width="1.0"/>
<circle cx="571.83" cy="97.22" r="1.1" fill="none" stroke="#3d60b8" stroke-width="1.0"/>
<circle cx="572.98" cy="97.24" r="1.1" fill="none" stroke="#3d60b8" stroke-width="1.0"/>
<circle cx="574.12" cy="97.25" r="1.1" fill="none" stroke="#3d60b8" stroke-width="1.0"/>
<circle cx="575.27" cy="97.27" r="1.1" fill="none" stroke="#3d60b8" stroke-width="1.0"/>
<circle cx="576.41" cy="97.28" r="1.1" fill="none" stroke="#3d60b8" stroke-width="1.0"/>
<circle cx="577.55" cy="97.31" r="1.1" fill="none" stroke="#3d60b8" stroke-width="1.0"/>
<circle cx="578.70" cy="97.33" r="1.1" fill="none" stroke="#3d60b8" stroke-width="1.0"/>
<circle cx="579.84" cy="97.36" r="1.1" fill="none" stroke="#3d60b8" stroke-width="1.0"/>
<circle cx="580.99" cy="97.39" r="1.1" fill="none" stroke="#3d60b8" stroke-width="1.0"/>
<circle cx="582.13" cy="97.43" r="1.1" fill="none" stroke="#3d60b8" stroke-width="1.0"/>
<circle cx="583.28" cy="97.47" r="1.1" fill="none" stroke="#3d60b8" stroke-width="1.0"/>
<circle cx="584.42" cy="97.51" r="1.1" fill="none" stroke="#3d60b8" stroke-width="1.0"/>
<circle cx="585.57" cy="97.56" r="1.1" fill="none" stroke="#3d60b8" stroke-width="1.0"/>
<circle cx="586.71" cy="97.61" r="1.1" fill="none" stroke="#3d60b8" stroke-width="1.0"/>
<circle cx="587.85" cy="97.67" r="1.1" fill="none" stroke="#3d60b8" stroke-width="1.0"/>
<circle cx="589.00" cy="97.73" r="1.1" fill="none" stroke="#3d60b8" stroke-width="1.0"/>
<circle cx="590.14" cy="97.80" r="1.1" fill="none" stroke="#3d60b8" stroke-width="1.0"/>
<circle cx="591.29" cy="97.86" r="1.1" fill="none" stroke="#3d60b8" stroke-width="1.0"/>
<circle cx="592.43" cy="97.93" r="1.1" fill="none" stroke="#3d60b8" stroke-width="1.0"/>
<circle cx="593.58" cy="98.00" r="1.1" fill="none" stroke="#3d60b8" stroke-width="1.0"/>
<circle cx="594.72" cy="98.08" r="1.1" fill="none" stroke="#3d60b8" stroke-width="1.0"/>
<circle cx="595.87" cy="98.16" r="1.1" fill="none" stroke="#3d60b8" stroke-width="1.0"/>
<circle cx="597.01" cy="98.25" r="1.1" fill="none" stroke="#3d60b8" stroke-width="1.0"/>
<circle cx="598.16" cy="98.33" r="1.1" fill="none" stroke="#3d60b8" stroke-width="1.0"/>
<circle cx="599.30" cy="98.43" r="1.1" fill="none" stroke="#3d60b8" stroke-width="1.0"/>
<circle cx="600.44" cy="98.52" r="1.1" fill="none" stroke="#3d60b8" stroke-width="1.0"/>
<circle cx="601.59" cy="98.62" r="1.1" fill="none" stroke="#3d60b8" stroke-width="1.0"/>
<circle cx="602.73" cy="98.73" r="1.1" fill="none" stroke="#3d60b8" stroke-width="1.0"/>
<circle cx="603.88" cy="98.84" r="1.1" fill="none" stroke="#3d60b8" stroke-width="1.0"/>
<circle cx="605.02" cy="98.96" r="1.1" fill="none" stroke="#3d60b8" stroke-width="1.0"/>
<circle cx="606.17" cy="99.08" r="1.1" fill="none" stroke="#3d60b8" stroke-width="1.0"/>
<circle cx="607.31" cy="99.22" r="1.1" fill="none" stroke="#3d60b8" stroke-width="1.0"/>
<circle cx="608.46" cy="99.35" r="1.1" fill="none" stroke="#3d60b8" stroke-width="1.0"/>
<circle cx="609.60" cy="99.50" r="1.1" fill="none" stroke="#3d60b8" stroke-width="1.0"/>
<circle cx="610.74" cy="99.65" r="1.1" fill="none" stroke="#3d60b8" stroke-width="1.0"/>
<circle cx="611.89" cy="99.82" r="1.1" fill="none" stroke="#3d60b8" stroke-width="1.0"/>
<circle cx="613.03" cy="99.98" r="1.1" fill="none" stroke="#3d60b8" stroke-width="1.0"/>
<circle cx="614.18" cy="100.16" r="1.1" fill="none" stroke="#3d60b8" stroke-width="1.0"/>
<circle cx="615.32" cy="100.35" r="1.1" fill="none" stroke="#3d60b8" stroke-width="1.0"/>
<circle cx="616.47" cy="100.54" r="1.1" fill="none" stroke="#3d60b8" stroke-width="1.0"/>
<circle cx="617.61" cy="100.74" r="1.1" fill="none" stroke="#3d60b8" stroke-width="1.0"/>
<circle cx="618.76" cy="100.95" r="1.1" fill="none" stroke="#3d60b8" stroke-width="1.0"/>
<circle cx="619.90" cy="101.17" r="1.1" fill="none" stroke="#3d60b8" stroke-width="1.0"/>
<circle cx="621.05" cy="101.39" r="1.1" fill="none" stroke="#3d60b8" stroke-width="1.0"/>
<circle cx="622.19" cy="101.62" r="1.1" fill="none" stroke="#3d60b8" stroke-width="1.0"/>
<circle cx="623.33" cy="101.87" r="1.1" fill="none" stroke="#3d60b8" stroke-width="1.0"/>
<circle cx="624.48" cy="102.14" r="1.1" fill="none" stroke="#3d60b8" stroke-width="1.0"/>
<circle cx="625.62" cy="102.40" r="1.1" fill="none" stroke="#3d60b8" stroke-width="1.0"/>
<circle cx="626.77" cy="102.68" r="1.1" fill="none" stroke="#3d60b8" stroke-width="1.0"/>
<circle cx="627.91" cy="102.96" r="1.1" fill="none" stroke="#3d60b8" stroke-width="1.0"/>
<circle cx="629.06" cy="103.25" r="1.1" fill="none" stroke="#3d60b8" stroke-width="1.0"/>
<circle cx="630.20" cy="103.53" r="1.1" fill="none" stroke="#3d60b8" stroke-width="1.0"/>
<circle cx="631.35" cy="103.83" r="1.1" fill="none" stroke="#3d60b8" stroke-width="1.0"/>
<circle cx="632.49" cy="104.12" r="1.1" fill="none" stroke="#3d60b8" stroke-width="1.0"/>
<circle cx="633.63" cy="104.41" r="1.1" fill="none" stroke="#3d60b8" stroke-width="1.0"/>
<path d="M142.60,309.90 L143.10,308.52 L143.60,307.14 L144.10,305.75 L144.60,304.37 L145.10,302.99 L145.60,301.60 L146.10,300.22 L146.60,298.84 L147.10,297.47 L147.60,296.09 L148.10,294.72 L148.60,293.35 L149.10,291.99 L149.60,290.64 L150.10,289.29 L150.60,287.94 L151.10,286.60 L151.60,285.27 L152.10,283.95 L152.60,282.64 L153.10,281.33 L153.60,280.04 L154.10,278.75 L154.60,277.48 L155.10,276.22 L155.60,274.97 L156.10,273.72 L156.60,272.50 L157.10,271.28 L157.60,270.07 L158.10,268.87 L158.60,267.68 L159.10,266.50 L159.60,265.33 L160.10,264.18 L160.60,263.02 L161.10,261.88 L161.60,260.75 L162.10,259.63 L162.60,258.51 L163.10,257.40 L163.60,256.30 L164.10,255.21 L164.60,254.12 L165.10,253.04 L165.60,251.97 L166.10,250.90 L166.60,249.84 L167.10,248.79 L167.60,247.74 L168.10,246.70 L168.60,245.67 L169.10,244.64 L169.60,243.61 L170.10,242.60 L170.60,241.59 L171.10,240.58 L171.60,239.59 L172.10,238.60 L172.60,237.61 L173.10,236.63 L173.60,235.66 L174.10,234.70 L174.60,233.74 L175.10,232.79 L175.60,231.85 L176.10,230.92 L176.60,229.99 L177.10,229.07 L177.60,228.15 L178.10,227.25 L178.60,226.35 L179.10,225.46 L179.60,224.58 L180.10,223.70 L180.60,222.83 L181.10,221.97 L181.60,221.12 L182.10,220.28 L182.60,219.44 L183.10,218.61 L183.60,217.79 L184.10,216.98 L184.60,216.18 L185.10,215.38 L185.60,214.59 L186.10,213.82 L186.60,213.05 L187.10,212.28 L187.60,211.53 L188.10,210.78 L188.60,210.04 L189.10,209.31 L189.60,208.59 L190.10,207.87 L190.60,207.16 L191.10,206.46 L191.60,205.76 L192.10,205.08 L192.60,204.39 L193.10,203.72 L193.60,203.05 L194.10,202.39 L194.60,201.73 L195.10,201.09 L195.60,200.44 L196.10,199.81 L196.60,199.18 L197.10,198.55 L197.60,197.93 L198.10,197.32 L198.60,196.71 L199.10,196.11 L199.60,195.51 L200.10,194.92 L200.60,194.33 L201.10,193.75 L201.60,193.18 L202.10,192.60 L202.60,192.04 L203.10,191.47 L203.60,190.92 L204.10,190.36 L204.60,189.81 L205.10,189.27 L205.60,188.73 L206.10,188.19 L206.60,187.66 L207.10,187.13 L207.60,186.60 L208.10,186.08 L208.60,185.56 L209.10,185.05 L209.60,184.53 L210.10,184.03 L210.60,183.52 L211.10,183.02 L211.60,182.53 L212.10,182.03 L212.60,181.55 L213.10,181.06 L213.60,180.58 L214.10,180.10 L214.60,179.62 L215.10,179.15 L215.60,178.68 L216.10,178.22 L216.60,177.75 L217.10,177.30 L217.60,176.84 L218.10,176.39 L218.60,175.94 L219.10,175.49 L219.60,175.05 L220.10,174.61 L220.60,174.17 L221.10,173.74 L221.60,173.31 L222.10,172.88 L222.60,172.46 L223.10,172.04 L223.60,171.62 L224.10,171.21 L224.60,170.79 L225.10,170.39 L225.60,169.98 L226.10,169.58 L226.60,169.18 L227.10,168.78 L227.60,168.38 L228.10,167.99 L228.60,167.60 L229.10,167.22 L229.60,166.83 L230.10,166.45 L230.60,166.07 L231.10,165.70 L231.60,165.32 L232.10,164.95 L232.60,164.58 L233.10,164.22 L233.60,163.86 L234.10,163.50 L234.60,163.14 L235.10,162.78 L235.60,162.43 L236.10,162.08 L236.60,161.73 L237.10,161.38 L237.60,161.04 L238.10,160.70 L238.60,160.36 L239.10,160.02 L239.60,159.69 L240.10,159.35 L240.60,159.02 L241.10,158.70 L241.60,158.37 L242.10,158.05 L242.60,157.73 L243.10,157.41 L243.60,157.09 L244.10,156.77 L244.60,156.46 L245.10,156.15 L245.60,155.84 L246.10,155.53 L246.60,155.23 L247.10,154.93 L247.60,154.62 L248.10,154.33 L248.60,154.03 L249.10,153.73 L249.60,153.44 L250.10,153.15 L250.60,152.86 L251.10,152.57 L251.60,152.29 L252.10,152.00 L252.60,151.72 L253.10,151.44 L253.60,151.16 L254.10,150.89 L254.60,150.61 L255.10,150.34 L255.60,150.07 L256.10,149.80 L256.60,149.53 L257.10,149.27 L257.60,149.00 L258.10,148.74 L258.60,148.48 L259.10,148.22 L259.60,147.96 L260.10,147.71 L260.60,147.45 L261.10,147.20 L261.60,146.95 L262.10,146.70 L262.60,146.45 L263.10,146.20 L263.60,145.96 L264.10,145.71 L264.60,145.47 L265.10,145.23 L265.60,144.99 L266.10,144.75 L266.60,144.52 L267.10,144.28 L267.60,144.05 L268.10,143.81 L268.60,143.58 L269.10,143.35 L269.60,143.12 L270.10,142.90 L270.60,142.67 L271.10,142.45 L271.60,142.22 L272.10,142.00 L272.60,141.78 L273.10,141.56 L273.60,141.34 L274.10,141.12 L274.60,140.91 L275.10,140.69 L275.60,140.48 L276.10,140.26 L276.60,140.05 L277.10,139.84 L277.60,139.63 L278.10,139.42 L278.60,139.21 L279.10,139.01 L279.60,138.80 L280.10,138.60 L280.60,138.39 L281.10,138.19 L281.60,137.99 L282.10,137.79 L282.60,137.59 L283.10,137.39 L283.60,137.19 L284.10,136.99 L284.60,136.79 L285.10,136.60 L285.60,136.40 L286.10,136.21 L286.60,136.01 L287.10,135.82 L287.60,135.63 L288.10,135.44 L288.60,135.25 L289.10,135.06 L289.60,134.87 L290.10,134.68 L290.60,134.49 L291.10,134.30 L291.60,134.11 L292.10,133.93 L292.60,133.74 L293.10,133.56 L293.60,133.37 L294.10,133.19 L294.60,133.00 L295.10,132.82 L295.60,132.64 L296.10,132.46 L296.60,132.28 L297.10,132.09 L297.60,131.91 L298.10,131.73 L298.60,131.55 L299.10,131.37 L299.60,131.19 L300.10,131.01 L300.60,130.84 L301.10,130.66 L301.60,130.48 L302.10,130.30 L302.60,130.12 L303.10,129.95 L303.60,129.77 L304.10,129.59 L304.60,129.42 L305.10,129.24 L305.60,129.06 L306.10,128.89 L306.60,128.71 L307.10,128.54 L307.60,128.36 L308.10,128.18 L308.60,128.01 L309.10,127.83 L309.60,127.66 L310.10,127.48 L310.60,127.31 L311.10,127.13 L311.60,126.96 L312.10,126.78 L312.60,126.61 L313.10,126.43 L313.60,126.26 L314.10,126.08 L314.60,125.91 L315.10,125.73 L315.60,125.56 L316.10,125.38 L316.60,125.21 L317.10,125.03 L317.60,124.86 L318.10,124.69 L318.60,124.51 L319.10,124.34 L319.60,124.16 L320.10,123.99 L320.60,123.82 L321.10,123.65 L321.60,123.47 L322.10,123.30 L322.60,123.13 L323.10,122.96 L323.60,122.79 L324.10,122.62 L324.60,122.45 L325.10,122.28 L325.60,122.11 L326.10,121.94 L326.60,121.77 L327.10,121.60 L327.60,121.43 L328.10,121.27 L328.60,121.10 L329.10,120.93 L329.60,120.76 L330.10,120.60 L330.60,120.43 L331.10,120.27 L331.60,120.10 L332.10,119.94 L332.60,119.78 L333.10,119.61 L333.60,119.45 L334.10,119.29 L334.60,119.13 L335.10,118.97 L335.60,118.81 L336.10,118.65 L336.60,118.49 L337.10,118.33 L337.60,118.17 L338.10,118.02 L338.60,117.86 L339.10,117.70 L339.60,117.55 L340.10,117.40 L340.60,117.24 L341.10,117.09 L341.60,116.94 L342.10,116.79 L342.60,116.63 L343.10,116.48 L343.60,116.34 L344.10,116.19 L344.60,116.04 L345.10,115.89 L345.60,115.75 L346.10,115.60 L346.60,115.46 L347.10,115.31 L347.60,115.17 L348.10,115.03 L348.60,114.89 L349.10,114.75 L349.60,114.61 L350.10,114.47 L350.60,114.34 L351.10,114.20 L351.60,114.06 L352.10,113.93 L352.60,113.80 L353.10,113.66 L353.60,113.53 L354.10,113.40 L354.60,113.27 L355.10,113.14 L355.60,113.02 L356.10,112.89 L356.60,112.77 L357.10,112.64 L357.60,112.52 L358.10,112.40 L358.60,112.28 L359.10,112.16 L359.60,112.04 L360.10,111.92 L360.60,111.81 L361.10,111.69 L361.60,111.58 L362.10,111.46 L362.60,111.35 L363.10,111.24 L363.60,111.13 L364.10,111.03 L364.60,110.92 L365.10,110.81 L365.60,110.71 L366.10,110.61 L366.60,110.51 L367.10,110.41 L367.60,110.31 L368.10,110.21 L368.60,110.11 L369.10,110.02 L369.60,109.93 L370.10,109.83 L370.60,109.74 L371.10,109.66 L371.60,109.57 L372.10,109.48 L372.60,109.40 L373.10,109.31 L373.60,109.23 L374.10,109.15 L374.60,109.07 L375.10,108.99 L375.60,108.92 L376.10,108.84 L376.60,108.77 L377.10,108.70 L377.60,108.63 L378.10,108.56 L378.60,108.49 L379.10,108.43 L379.60,108.37 L380.10,108.30 L380.60,108.24 L381.10,108.18 L381.60,108.13 L382.10,108.07 L382.60,108.02 L383.10,107.97 L383.60,107.92 L384.10,107.87 L384.60,107.82 L385.10,107.77 L385.60,107.73 L386.10,107.69 L386.60,107.65 L387.10,107.61 L387.60,107.57 L388.10,107.54 L388.60,107.51 L389.10,107.48 L389.60,107.45 L390.10,107.42 L390.60,107.39 L391.10,107.37 L391.60,107.35 L392.10,107.33 L392.60,107.31 L393.10,107.29 L393.60,107.28 L394.10,107.27 L394.60,107.26 L395.10,107.25 L395.60,107.24 L396.10,107.24 L396.60,107.23 L397.10,107.23 L397.60,107.23 L398.10,107.24 L398.60,107.24 L399.10,107.25 L399.60,107.26 L400.10,107.27 L400.60,107.29 L401.10,107.30 L401.60,107.32 L402.10,107.34 L402.60,107.36 L403.10,107.39 L403.60,107.41 L404.10,107.44 L404.60,107.47 L405.10,107.50 L405.60,107.54 L406.10,107.58 L406.60,107.62 L407.10,107.66 L407.60,107.70 L408.10,107.75 L408.60,107.80 L409.10,107.85 L409.60,107.90 L410.10,107.96 L410.60,108.01 L411.10,108.07 L411.60,108.14 L412.10,108.20 L412.60,108.27 L413.10,108.34 L413.60,108.41 L414.10,108.48 L414.60,108.56 L415.10,108.64 L415.60,108.72 L416.10,108.80 L416.60,108.89 L417.10,108.98 L417.60,109.07 L418.10,109.16 L418.60,109.26 L419.10,109.36 L419.60,109.46 L420.10,109.56 L420.60,109.67 L421.10,109.78 L421.60,109.89 L422.10,110.00 L422.60,110.12 L423.10,110.24 L423.60,110.36 L424.10,110.48 L424.60,110.61 L425.10,110.74 L425.60,110.87 L426.10,111.00 L426.60,111.14 L427.10,111.28 L427.60,111.42 L428.10,111.57 L428.60,111.72 L429.10,111.87 L429.60,112.02 L430.10,112.18 L430.60,112.34 L431.10,112.50 L431.50,112.63" fill="none" stroke="#e24a50" stroke-width="1.55" stroke-linecap="round" stroke-linejoin="round"/>
<circle cx="147.0" cy="299.0" r="5.1" fill="#fff" stroke="#e24a50" stroke-width="1.6"/>
<circle cx="154.9" cy="276.0" r="5.1" fill="#fff" stroke="#e24a50" stroke-width="1.6"/>
<circle cx="357.7" cy="111.9" r="5.1" fill="#fff" stroke="#e24a50" stroke-width="1.6"/>
<circle cx="376.7" cy="108.5" r="5.1" fill="#fff" stroke="#e24a50" stroke-width="1.6"/>
<circle cx="396.1" cy="107.3" r="5.1" fill="#fff" stroke="#e24a50" stroke-width="1.6"/>
<line x1="165.70000000000002" y1="43.2" x2="235.3" y2="43.2" stroke="#5c952f" stroke-width="1.5"/>
<path d="M156.4,43.2 L167.20,41.0 L166.20,43.2 L167.20,45.400000000000006 Z" fill="#5c952f"/>
<line x1="248" y1="43.2" x2="342.2" y2="43.2" stroke="#5c952f" stroke-width="1.5"/>
<path d="M351.5,43.2 L340.70,41.0 L341.70,43.2 L340.70,45.400000000000006 Z" fill="#5c952f"/>
<line x1="361.8" y1="77.0" x2="427.3" y2="77.0" stroke="#5c952f" stroke-width="1.5"/>
<path d="M352.5,77.0 L363.30,74.8 L362.30,77.0 L363.30,79.2 Z" fill="#5c952f"/>
<line x1="438.2" y1="77.0" x2="511.59999999999997" y2="77.0" stroke="#5c952f" stroke-width="1.5"/>
<path d="M520.9,77.0 L510.10,74.8 L511.10,77.0 L510.10,79.2 Z" fill="#5c952f"/>
<line x1="99.4" y1="98.9" x2="118.10000000000001" y2="98.9" stroke="#5c952f" stroke-width="1.5"/>
<path d="M127.4,98.9 L116.60,96.7 L117.60,98.9 L116.60,101.10000000000001 Z" fill="#5c952f"/>
<line x1="167.10000000000002" y1="98.9" x2="185.8" y2="98.9" stroke="#5c952f" stroke-width="1.5"/>
<path d="M157.8,98.9 L168.60,96.7 L167.60,98.9 L168.60,101.10000000000001 Z" fill="#5c952f"/>
<line x1="118.1" y1="151.6" x2="137.7" y2="151.6" stroke="#5c952f" stroke-width="1.5"/>
<path d="M147,151.6 L136.20,149.4 L137.20,151.6 L136.20,153.79999999999998 Z" fill="#5c952f"/>
<line x1="166.9" y1="151.6" x2="184.8" y2="151.6" stroke="#5c952f" stroke-width="1.5"/>
<path d="M157.6,151.6 L168.40,149.4 L167.40,151.6 L168.40,153.79999999999998 Z" fill="#5c952f"/>
<line x1="330.2" y1="165.3" x2="348.9" y2="165.3" stroke="#5c952f" stroke-width="1.5"/>
<path d="M358.2,165.3 L347.40,163.10000000000002 L348.40,165.3 L347.40,167.5 Z" fill="#5c952f"/>
<line x1="389.7" y1="165.3" x2="408.5" y2="165.3" stroke="#5c952f" stroke-width="1.5"/>
<path d="M380.4,165.3 L391.20,163.10000000000002 L390.20,165.3 L391.20,167.5 Z" fill="#5c952f"/>
<text x="235.9" y="46.8" font-family="'Liberation Sans', sans-serif" font-size="17" fill="#5c952f">A</text>
<text transform="translate(427.7,82.6) scale(0.9,1)" font-family="'Liberation Sans', sans-serif" font-size="17.2" fill="#5c952f">B</text>
<text x="136.5" y="89.2" font-family="'Liberation Sans', sans-serif" font-size="15.6" fill="#5c952f">C</text>
<text x="187.4" y="156.6" font-family="'Liberation Sans', sans-serif" font-size="15.7" fill="#5c952f">&#916;</text>
<text x="198.6" y="156.6" font-family="'Liberation Sans', sans-serif" font-size="15.7" font-style="italic" fill="#5c952f">E</text>
<text x="208.4" y="159.4" font-family="'Liberation Sans', sans-serif" font-size="11" fill="#5c952f">2</text>
<text x="353.4" y="189.1" font-family="'Liberation Sans', sans-serif" font-size="15.7" fill="#5c952f">&#916;</text>
<text x="364.3" y="189.1" font-family="'Liberation Sans', sans-serif" font-size="15.7" font-style="italic" fill="#5c952f">E</text>
<path transform="translate(373.9,191.5) scale(11,-11)" d="M0.359,0.703 L0.359,0 L0.272,0 L0.272,0.5 C0.23,0.52 0.17,0.525 0.101,0.525 L0.101,0.588 C0.19,0.592 0.26,0.62 0.288,0.703 Z" fill="#5c952f"/>
<text x="192.8" y="343.5" font-family="'Liberation Sans', sans-serif" font-size="17" fill="#e24a50" text-anchor="middle">Mn(II)</text>
<text x="265.7" y="296.7" font-family="'Liberation Sans', sans-serif" font-size="17" fill="#e24a50" text-anchor="middle">Fe(II)</text>
<text x="76.72" y="33.4" font-family="'Liberation Sans', sans-serif" font-size="22" fill="#000">0</text>
<rect x="56.70" y="240.40" width="6.38" height="1.72" fill="#000"/>
<text x="64.49" y="247.4" font-family="'Liberation Sans', sans-serif" font-size="22" fill="#000">20</text>
<rect x="56.70" y="454.70" width="6.38" height="1.72" fill="#000"/>
<text x="64.49" y="461.7" font-family="'Liberation Sans', sans-serif" font-size="22" fill="#000">40</text>
<rect x="152.40" y="584.90" width="6.38" height="1.72" fill="#000"/>
<path transform="translate(160.19,591.9) scale(22,-22)" d="M0.359,0.703 L0.359,0 L0.272,0 L0.272,0.5 C0.23,0.52 0.17,0.525 0.101,0.525 L0.101,0.588 C0.19,0.592 0.26,0.62 0.288,0.703 Z" fill="#000"/>
<text x="172.42" y="591.9" font-family="'Liberation Sans', sans-serif" font-size="22" fill="#000">.6</text>
<rect x="383.90" y="584.90" width="6.38" height="1.72" fill="#000"/>
<path transform="translate(391.69,591.9) scale(22,-22)" d="M0.359,0.703 L0.359,0 L0.272,0 L0.272,0.5 C0.23,0.52 0.17,0.525 0.101,0.525 L0.101,0.588 C0.19,0.592 0.26,0.62 0.288,0.703 Z" fill="#000"/>
<text x="403.92" y="591.9" font-family="'Liberation Sans', sans-serif" font-size="22" fill="#000">.2</text>
<rect x="615.50" y="584.90" width="6.38" height="1.72" fill="#000"/>
<text x="623.29" y="591.9" font-family="'Liberation Sans', sans-serif" font-size="22" fill="#000">0.8</text>
<text transform="translate(284,632) scale(0.965,1)" font-family="'Liberation Sans', sans-serif" font-size="21.8" fill="#000"><tspan font-style="italic">E</tspan> (V vs. Ag/AgCl)</text>
<text transform="translate(20.3,316.8) rotate(-90)" font-family="'Liberation Sans', sans-serif" font-size="20.3" fill="#000"><tspan font-style="italic">i</tspan> (nA)</text>
</svg>
</body></html>
